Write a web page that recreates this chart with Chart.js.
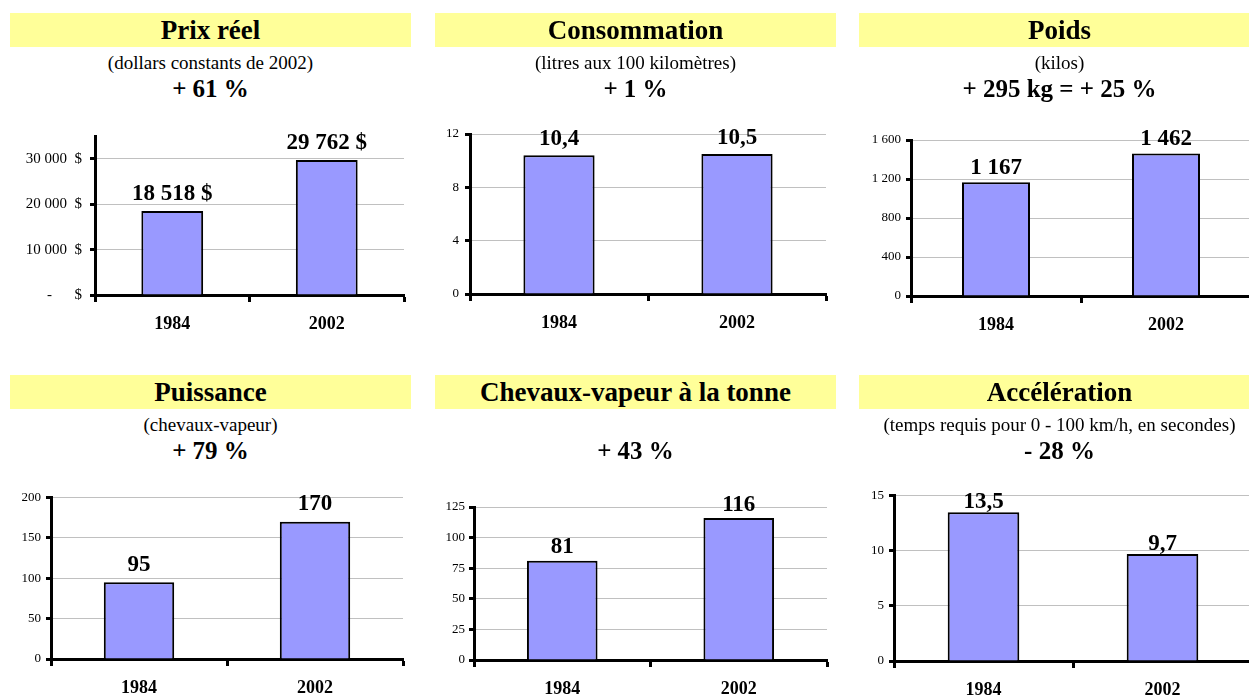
<!DOCTYPE html>
<html lang="fr">
<head>
<meta charset="utf-8">
<script src="https://cdn.jsdelivr.net/npm/chart.js@4/dist/chart.umd.min.js"></script>
<style>
  html, body { margin: 0; padding: 0; background: #fff; }
  body { width: 1249px; height: 696px; overflow: hidden; position: relative;
         font-family: "Liberation Serif", "Times New Roman", serif; color: #000; }
  .band { position: absolute; height: 34px; width: 401px; background: #ffff99; }
  .txt { position: absolute; width: 600px; text-align: center; white-space: nowrap; }
  canvas { position: absolute; }
</style>
</head>
<body>
<script>
// ---- Data ----
const categories   = ['1984', '2002'];
const prixReel     = [18518, 29762];   // dollars constants de 2002
const consommation = [10.4, 10.5];     // litres aux 100 km
const poids        = [1167, 1462];     // kilos
const puissance    = [95, 170];        // chevaux-vapeur
const chevauxTonne = [81, 116];        // chevaux-vapeur à la tonne
const acceleration = [13.5, 9.7];      // secondes, 0 - 100 km/h

const titles    = ['Prix réel', 'Consommation', 'Poids', 'Puissance', 'Chevaux-vapeur à la tonne', 'Accélération'];
const subtitles = ['(dollars constants de 2002)', '(litres aux 100 kilomètres)', '(kilos)', '(chevaux-vapeur)', '', '(temps requis pour 0 - 100 km/h, en secondes)'];
const changes   = ['+ 61 %', '+ 1 %', '+ 295 kg = + 25 %', '+ 79 %', '+ 43 %', '- 28 %'];

// Value axis: upper bound and labelled tick values
const axisMax   = [35000, 12, 1600, 200, 125, 15];
const prixTicks   = [0, 10000, 20000, 30000];
const consoTicks  = [0, 4, 8, 12];
const poidsTicks  = [0, 400, 800, 1200, 1600];
const puisTicks   = [0, 50, 100, 150, 200];
const tonneTicks  = [0, 25, 50, 75, 100, 125];
const accelTicks  = [0, 5, 10, 15];
const tickLists = [prixTicks, consoTicks, poidsTicks, puisTicks, tonneTicks, accelTicks];

// French number formatting: space as thousands separator, comma for decimals
function fr(v, dec = 0) {
  const parts = Number(v).toFixed(dec).split('.');
  parts[0] = parts[0].replace(/\B(?=(\d{3})+(?!\d))/g, ' ');
  return parts.join(',');
}

const FONT = '"Liberation Serif", "Times New Roman", serif';

const tickFormats = [
  v => (v === 0 ? '-      $' : fr(v) + '  $'),
  v => fr(v),
  v => fr(v),
  v => fr(v),
  v => fr(v),
  v => fr(v)
];
const valueFormats = [
  v => fr(v) + ' $',
  v => fr(v, 1),
  v => fr(v),
  v => fr(v),
  v => fr(v),
  v => fr(v, 1)
];
const seriesList = [prixReel, consommation, poids, puissance, chevauxTonne, acceleration];

// ---- Layout of the six panels ----
const layoutCfg = [
  { band: [10, 13],   plot: { l: 95,  r: 404,  t: 136.3, b: 295 }, canvas: { x: 0,   y: 100, w: 420, h: 250 }, tickPad: 8, tickSize: 15, lift: 11.5 },
  { band: [435, 13],  plot: { l: 470, r: 826,  t: 134,   b: 294 }, canvas: { x: 425, y: 100, w: 420, h: 250 }, tickPad: 6, tickSize: 13, lift: 10.5 },
  { band: [859, 13],  plot: { l: 911, r: 1251, t: 140,   b: 296 }, canvas: { x: 849, y: 100, w: 406, h: 250 }, tickPad: 5, tickSize: 13, lift: 8.5 },
  { band: [10, 375],  plot: { l: 51,  r: 403,  t: 497.5, b: 659 }, canvas: { x: 0,   y: 462, w: 420, h: 234 }, tickPad: 5, tickSize: 13, lift: 11.5 },
  { band: [435, 375], plot: { l: 474, r: 827,  t: 507,   b: 660 }, canvas: { x: 425, y: 462, w: 420, h: 234 }, tickPad: 4, tickSize: 13, lift: 7.5 },
  { band: [859, 375], plot: { l: 894, r: 1252, t: 495.7, b: 661 }, canvas: { x: 849, y: 462, w: 406, h: 234 }, tickPad: 5, tickSize: 13, lift: 4.5 }
];

// Value labels drawn above each bar
const valueLabels = {
  id: 'valueLabels',
  afterDatasetsDraw(chart, args, opts) {
    const ctx = chart.ctx;
    const meta = chart.getDatasetMeta(0);
    const data = chart.data.datasets[0].data;
    ctx.save();
    ctx.font = 'bold 23px ' + FONT;
    ctx.fillStyle = '#000';
    ctx.textAlign = 'center';
    ctx.textBaseline = 'alphabetic';
    meta.data.forEach((bar, i) => {
      ctx.fillText(opts.format(data[i]), bar.x, bar.y - opts.lift);
    });
    ctx.restore();
  }
};

function addText(text, cx, top, size, bold) {
  const d = document.createElement('div');
  d.className = 'txt';
  d.textContent = text;
  d.style.left = (cx - 300) + 'px';
  d.style.top = top + 'px';
  d.style.fontSize = size + 'px';
  d.style.lineHeight = size + 'px';
  d.style.fontWeight = bold ? 'bold' : 'normal';
  document.body.appendChild(d);
}

layoutCfg.forEach((L, i) => {
  // Heading band and texts
  const band = document.createElement('div');
  band.className = 'band';
  band.style.left = L.band[0] + 'px';
  band.style.top = L.band[1] + 'px';
  document.body.appendChild(band);
  const cx = L.band[0] + 200.5;
  const t = document.createElement('div');
  t.className = 'txt';
  t.textContent = titles[i];
  t.style.cssText = `left:${cx - 300}px;top:${L.band[1]}px;font-size:27px;line-height:34px;font-weight:bold;`;
  document.body.appendChild(t);
  if (subtitles[i]) addText(subtitles[i], cx, L.band[1] + 39.6, 19, false);
  addText(changes[i], cx, L.band[1] + 63, 25, true);

  // Chart canvas
  const c = document.createElement('canvas');
  c.width = L.canvas.w;
  c.height = L.canvas.h;
  c.style.left = L.canvas.x + 'px';
  c.style.top = L.canvas.y + 'px';
  c.style.width = L.canvas.w + 'px';
  c.style.height = L.canvas.h + 'px';
  document.body.appendChild(c);

  const padTop = L.plot.t - L.canvas.y;
  const padRight = L.canvas.x + L.canvas.w - L.plot.r;
  const yWidth = L.plot.l - L.canvas.x;
  const xHeight = L.canvas.y + L.canvas.h - L.plot.b;
  const tickValues = tickLists[i];

  new Chart(c, {
    type: 'bar',
    data: {
      labels: categories,
      datasets: [{
        data: seriesList[i],
        backgroundColor: '#9999ff',
        borderColor: '#000000',
        borderWidth: 2,
        barPercentage: 0.4,
        categoryPercentage: 1
      }]
    },
    options: {
      responsive: false,
      animation: false,
      devicePixelRatio: 1,
      layout: { padding: { top: padTop, right: padRight, left: 0, bottom: 0 } },
      plugins: {
        legend: { display: false },
        tooltip: { enabled: false },
        valueLabels: { format: valueFormats[i], lift: L.lift }
      },
      scales: {
        x: {
          grid: { offset: true, drawOnChartArea: false, drawTicks: true, tickLength: 7, tickWidth: 3, tickColor: '#000' },
          border: { display: true, color: '#000', width: 3 },
          ticks: { color: '#000', padding: 12, font: { family: FONT, size: 18, weight: 'bold' } },
          afterFit(s) { s.height = xHeight; }
        },
        y: {
          min: 0,
          max: axisMax[i],
          grid: { color: '#c0c0c0', lineWidth: 1, tickLength: 5, tickWidth: 3, tickColor: '#000' },
          border: { display: true, color: '#000', width: 3 },
          ticks: { color: '#000', padding: L.tickPad, font: { family: FONT, size: L.tickSize }, callback: tickFormats[i] },
          afterBuildTicks(s) { s.ticks = tickValues.map(v => ({ value: v })); },
          afterFit(s) { s.width = yWidth; }
        }
      }
    },
    plugins: [valueLabels]
  });
});
</script>
</body>
</html>
